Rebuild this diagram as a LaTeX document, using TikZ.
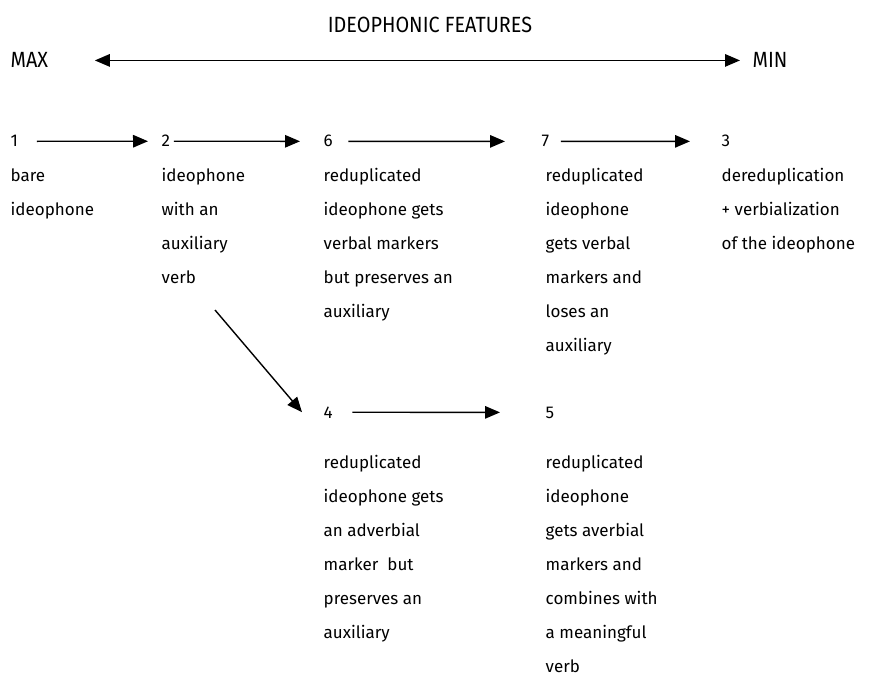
\documentclass[tikz,border=0pt]{standalone}
\usepackage{fontspec}
\setmainfont{Fira Sans}
\newfontfamily\condfont[FakeStretch=0.9]{Fira Sans}
\usetikzlibrary{arrows.meta}
\begin{document}
\begin{tikzpicture}[x=1pt, y=-1pt, line join=round, >={Triangle[length=15pt,width=12.5pt]}, line width=1.4pt, font=\fontsize{17}{34}\selectfont,
num/.style={anchor=base west, inner sep=0pt},
desc/.style={anchor=north west, inner sep=0pt, align=left},
head/.style={inner sep=0pt, font=\condfont\fontsize{22}{24}\selectfont}]
\useasboundingbox (0,0) rectangle (881,674);
% scale of ideophonic features
\node[head] (title) at (430,25) {IDEOPHONIC FEATURES};
\node[head, anchor=base west] (max) at (10,68) {MAX};
\node[head, anchor=base west] (min) at (752,68) {MIN};
\draw[<->, shorten <=46pt, shorten >=12pt] (max) -- (min);
% first row
\foreach \n/\x in {1/10,2/161,6/323,7/541,3/721}{
\node[num] (n\n) at (\x,147) {\n};
}
\foreach \a/\b/\s/\t in {1/2/18/13, 2/6/3/23, 6/7/15/36, 7/3/11/31}{
\draw[->, shorten <=\s pt, shorten >=\t pt] (n\a) -- (n\b);
}
\node[desc] (d1) at (10,168) {bare\\ideophone};
\node[desc] (d2) at (161,168) {ideophone\\with an\\auxiliary\\verb};
\node[desc] (d6) at (323,168) {reduplicated\\ideophone gets\\verbal markers\\but preserves an\\auxiliary};
\node[desc] (d7) at (545,168) {reduplicated\\ideophone\\gets verbal\\markers and\\loses an\\auxiliary};
\node[desc] (d3) at (721,168) {dereduplication\\+ verbialization\\of the ideophone};
% second row
\foreach \n/\x in {4/323,5/545}{
\node[num] (n\n) at (\x,418) {\n};
}
\draw[->, shorten <=19pt, shorten >=45pt] (n4) -- (n5);
\coordinate (c2) at (215,310);
\draw[->] (c2) -- ([xshift=-21pt]n4.west);
\node[desc] (d4) at (323,455) {reduplicated\\ideophone gets\\an adverbial\\marker~ but\\preserves an\\auxiliary};
\node[desc] (d5) at (545,455) {reduplicated\\ideophone\\gets averbial\\markers and\\combines with\\a meaningful\\verb};
\end{tikzpicture}
\end{document}
